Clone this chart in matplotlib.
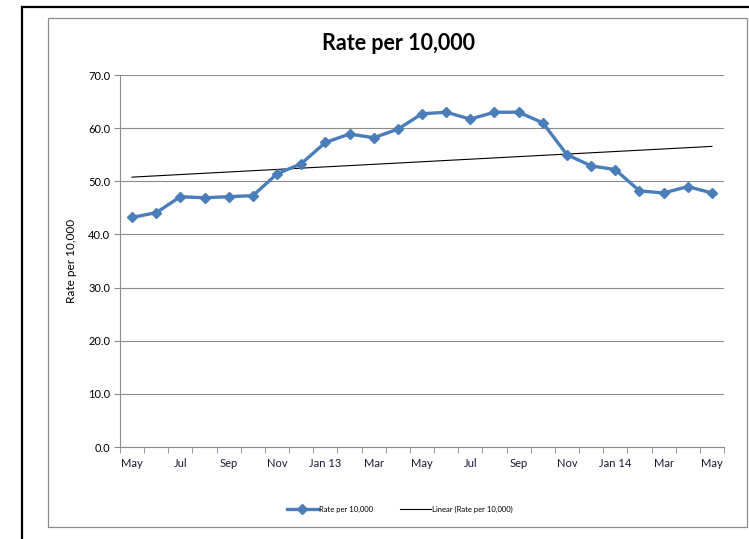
import matplotlib.pyplot as plt
import numpy as np
from matplotlib.patches import Rectangle

# Monthly rate, May 2012 -> May 2014
mois = ["May", "Jun", "Jul", "Aug", "Sep", "Oct", "Nov", "Dec",
        "Jan 13", "Feb", "Mar", "Apr", "May", "Jun", "Jul", "Aug",
        "Sep", "Oct", "Nov", "Dec", "Jan 14", "Feb", "Mar", "Apr", "May"]
taux = [43.2, 44.1, 47.1, 46.9, 47.1, 47.3, 51.4, 53.3, 57.3, 58.9,
        58.2, 59.8, 62.7, 63.0, 61.7, 63.0, 63.0, 61.0, 55.0, 52.9,
        52.2, 48.2, 47.8, 49.0, 47.8]
y_ticks = [0, 10, 20, 30, 40, 50, 60, 70]

plt.rcParams['font.family'] = ['Lato', 'DejaVu Sans']

W, H = 749, 539
fig = plt.figure(figsize=(W / 100, H / 100), dpi=100)

# Cadres (style Excel)
fig.patches.append(Rectangle((22 / W, -0.1), 2, 1.1 - 7 / H, transform=fig.transFigure,
                             fill=False, edgecolor='black', linewidth=1.6))
fig.patches.append(Rectangle((48 / W, (H - 527) / H), (747 - 48) / W, (527 - 18) / H,
                             transform=fig.transFigure, fill=False,
                             edgecolor='#8c8c8c', linewidth=0.9))

ax = fig.add_axes([120 / W, (H - 447) / H, (724 - 120) / W, (447 - 75) / H])

X = np.arange(len(taux))
ax.plot(X, taux, color='#4A7EBB', linewidth=2.4, marker='D', markersize=5.5,
        label="Rate per 10,000", zorder=3)

# Courbe de tendance linéaire
a, b = np.polyfit(X, taux, 1)
ax.plot(X, a * X + b, color='black', linewidth=0.8, label="Linear (Rate per 10,000)", zorder=2)

ax.set_xlim(-0.5, len(taux) - 0.5)
ax.set_ylim(0, 70)
ax.set_yticks(y_ticks)
ax.set_yticklabels([f"{v:.1f}" for v in y_ticks], fontsize=8)
ax.set_xticks(X[::2])
ax.set_xticklabels(mois[::2], fontsize=8, color='#1a1a3a')
ax.set_xticks(np.arange(-0.5, len(taux), 1), minor=True)
ax.tick_params(axis='x', which='major', length=0, pad=8)
ax.tick_params(axis='x', which='minor', length=4, color='#8c8c8c')
ax.tick_params(axis='y', length=4, color='#8c8c8c', pad=3)

ax.grid(axis='y', color='#8c8c8c', linewidth=0.8)
ax.set_axisbelow(True)
for s in ['top', 'right']:
    ax.spines[s].set_visible(False)
for s in ['left', 'bottom']:
    ax.spines[s].set_color('#8c8c8c')

ax.set_ylabel("Rate per 10,000", fontsize=8.5, labelpad=8)
fig.text(398 / W, (H - 44) / H, "Rate per 10,000", fontsize=15.5, fontweight='bold',
         ha='center', va='center')

fig.legend(loc='center', bbox_to_anchor=(400 / W, (H - 509) / H), ncol=2, fontsize=5.5,
           frameon=False, handlelength=4, handletextpad=0.2, columnspacing=3.5)

fig.savefig("out.png", dpi=100)
